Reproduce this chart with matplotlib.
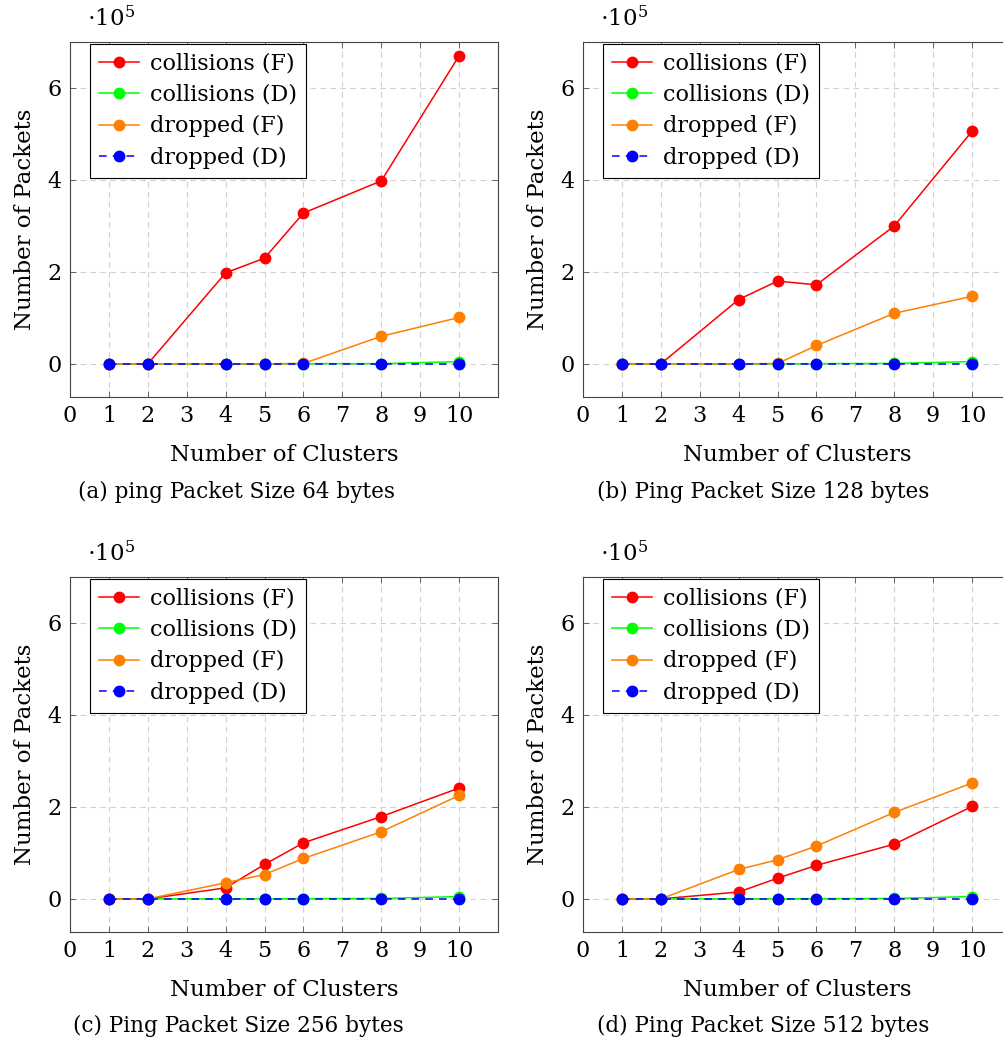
import numpy as np
import matplotlib
matplotlib.use('Agg')
import matplotlib.pyplot as plt
from matplotlib.ticker import FuncFormatter

########## data
clusters = [1, 2, 4, 5, 6, 8, 10]

# (a) 64 bytes
coll_F_64 = [0, 0, 198000, 230000, 328000, 398000, 670000]
coll_D_64 = [0, 0, 0, 0, 500, 500, 5000]
drop_F_64 = [0, 0, 0, 0, 1000, 60000, 101000]
drop_D_64 = [0, 0, 0, 0, 0, 0, 0]

# (b) 128 bytes
coll_F_128 = [0, 0, 140000, 180000, 172000, 300000, 506000]
coll_D_128 = [0, 0, 0, 0, 500, 1000, 5000]
drop_F_128 = [0, 0, 0, 1000, 40000, 110000, 147000]
drop_D_128 = [0, 0, 0, 0, 0, 0, 0]

# (c) 256 bytes
coll_F_256 = [0, 0, 24000, 75000, 122000, 179000, 241000]
coll_D_256 = [0, 0, 0, 0, 500, 1000, 5000]
drop_F_256 = [0, 0, 35000, 53000, 88000, 146000, 225000]
drop_D_256 = [0, 0, 0, 0, 0, 0, 0]

# (d) 512 bytes
coll_F_512 = [0, 0, 15000, 45000, 73000, 119000, 201000]
coll_D_512 = [0, 0, 0, 0, 500, 1000, 5000]
drop_F_512 = [0, 0, 64000, 85000, 115000, 188000, 252000]
drop_D_512 = [0, 0, 0, 0, 0, 0, 0]

captions = ['(a) ping Packet Size 64 bytes',
            '(b) Ping Packet Size 128 bytes',
            '(c) Ping Packet Size 256 bytes',
            '(d) Ping Packet Size 512 bytes']

panels = [(coll_F_64, coll_D_64, drop_F_64, drop_D_64),
          (coll_F_128, coll_D_128, drop_F_128, drop_D_128),
          (coll_F_256, coll_D_256, drop_F_256, drop_D_256),
          (coll_F_512, coll_D_512, drop_F_512, drop_D_512)]

x_ticks = list(range(0, 11))
y_ticks = [0, 200000, 400000, 600000]

########## fonts
plt.rcParams['font.family'] = 'DejaVu Serif'
plt.rcParams['mathtext.fontset'] = 'dejavuserif'
fs = 16

W, H = 1004, 1048
fig = plt.figure(figsize=(W / 100., H / 100.), dpi=100)

# axes boxes in pixels: left, top
ax_w, ax_h = 428, 355
boxes = [(70, 42), (583, 42), (70, 577), (583, 577)]
cap_pos = [(236, 492), (763, 492), (238, 1026), (763, 1026)]

styles = [dict(color=(1, 0, 0), ls='-', label='collisions (F)'),
          dict(color=(0, 1, 0), ls='-', label='collisions (D)'),
          dict(color=(1, 0.5, 0), ls='-', label='dropped (F)'),
          dict(color=(0, 0, 1), ls='--', label='dropped (D)')]

fmt = FuncFormatter(lambda v, p: '%g' % (v / 1e5))

for i, (left, top) in enumerate(boxes):
    ax = fig.add_axes([left / W, 1 - (top + ax_h) / H, ax_w / W, ax_h / H])
    for series, st in zip(panels[i], styles):
        ax.plot(clusters, series, marker='o', markersize=7.5, lw=1.1,
                color=st['color'], ls=st['ls'], label=st['label'],
                dashes=(5, 4) if st['ls'] == '--' else (None, None))

    ax.set_xlim(0, 11)
    ax.set_ylim(-72000, 700000)
    ax.set_xticks(x_ticks)
    ax.set_yticks(y_ticks)
    ax.yaxis.set_major_formatter(fmt)
    ax.grid(True, ls=(0, (5, 4)), color='#d0d0d0', lw=0.8)
    ax.set_axisbelow(True)
    ax.tick_params(which='both', direction='in', top=True, right=True,
                   length=4, width=0.6, color='#555555', labelsize=fs,
                   pad=6)
    for sp in ax.spines.values():
        sp.set_linewidth(0.8)
        sp.set_color('#444444')

    ax.set_xlabel('Number of Clusters', fontsize=16.5, labelpad=12)
    ax.set_ylabel('Number of Packets', fontsize=16.5, labelpad=8)
    ax.text(0.04, 1.03, r'$\cdot 10^{5}$', transform=ax.transAxes,
            fontsize=16.5, ha='left', va='bottom')

    leg = ax.legend(loc='upper left', bbox_to_anchor=(0.047, 0.995),
                    frameon=True, fancybox=False, edgecolor='black',
                    framealpha=1, fontsize=fs, handlelength=1.8,
                    handletextpad=0.5, borderpad=0.4, labelspacing=0.42,
                    borderaxespad=0.)
    leg.get_frame().set_linewidth(0.8)

    cx, cy = cap_pos[i]
    fig.text(cx / W, 1 - cy / H, captions[i], ha='center', va='center',
             fontsize=15.5)

fig.savefig('out.png', dpi=100)
plt.close()
